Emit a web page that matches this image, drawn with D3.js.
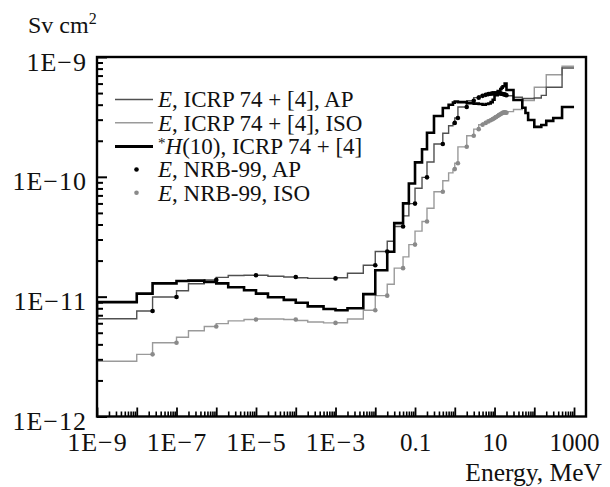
<!DOCTYPE html>
<html><head><meta charset="utf-8">
<script src="https://cdn.jsdelivr.net/npm/d3@7"></script>
<style>body{margin:0;background:#fff} svg text{font-family:"Liberation Serif","DejaVu Serif",serif;fill:#111}</style>
</head><body><svg id="chart" width="610" height="487" font-family="Liberation Serif, DejaVu Serif, serif"></svg>
<script>
// ---------- data (values in pSv cm^2) ----------
const icrpEnergy = [1e-9,1e-8,2.5e-8,1e-7,2e-7,5e-7,1e-6,2e-6,5e-6,1e-5,2e-5,5e-5,1e-4,2e-4,5e-4,1e-3,2e-3,5e-3,1e-2,2e-2,3e-2,5e-2,7e-2,0.1,0.15,0.2,0.3,0.5,0.7,0.9,1,1.2,2,3,4,5,6,7,8,9,10,12,14,15,16,18,20];
const apValues  = [5.24,6.55,7.60,9.95,11.2,12.8,13.8,14.5,15.0,15.1,15.1,14.8,14.6,14.4,14.2,14.2,14.4,15.7,18.3,23.8,29.0,38.5,47.2,59.8,80.2,99.0,133,188,231,267,282,310,383,432,458,474,483,490,494,497,499,499,496,494,491,486,480];
const isoValues = [2.40,2.89,3.30,4.13,4.59,5.20,5.63,5.96,6.28,6.44,6.51,6.51,6.45,6.32,6.14,6.04,6.05,6.52,7.70,10.2,12.7,17.3,21.5,27.2,35.2,42.4,54.7,75.0,92.8,108,116,130,178,220,250,272,282,290,297,303,309,322,333,338,342,345,343];
const h10Values = [6.60,9.00,10.6,12.9,13.5,13.6,13.3,12.9,12.0,11.3,10.6,9.90,9.40,8.90,8.30,7.90,7.70,8.00,10.5,16.6,23.7,41.1,60.0,88.0,132,170,233,322,375,400,416,425,420,412,408,405,400,405,409,420,440,480,520,540,555,570,600];
// extension above 20 MeV ([4])
const apExtEnergy  = [30,50,100,150,200,500,1000];
const apExtValues  = [475,462,450,455,478,559,810];
const isoExtEnergy = [30,50,100,200,500,1000];
const isoExtValues = [350,365,433,559,712,836];
const h10ExtEnergy = [30,50,60,70,100,150,200,300,500,1000];
const h10ExtValues = [530,438,377,341,298,261,271,293,310,383];
// NRB-99 points
const nrbEnergy = [2.5e-8,1e-7,1e-6,1e-5,1e-4,1e-3,1e-2,2e-2,5e-2,0.1,0.2,0.5,1,1.2,2,3,4,5,6,7,8,9,10,11,12,13,14,15,16,17,18,19,20];
const nrbAP  = [7.60,9.95,13.8,15.1,14.6,14.2,18.3,23.8,38.5,59.8,99.0,188,282,310,383,432,458,474,483,490,494,497,499,499,499,498,496,494,491,489,486,483,480];
const nrbISO = [3.30,4.13,5.63,6.44,6.45,6.04,7.70,10.2,17.3,27.2,42.4,75.0,116,130,178,220,250,272,282,290,297,303,309,316,322,328,333,338,342,344,345,344,343];
// ticks
const xTickValues = [1e-9,1e-7,1e-5,1e-3,0.1,10,1000];
const xTickLabels = ["1E\u22129","1E\u22127","1E\u22125","1E\u22123","0.1","10","1000"];
const yTickValues = [1e-12,1e-11,1e-10,1e-9];
const yTickLabels = ["1E\u221212","1E\u221211","1E\u221210","1E\u22129"];
const legendLabels = ["E, ICRP 74 + [4], AP","E, ICRP 74 + [4], ISO","*H(10), ICRP 74 + [4]","E, NRB-99, AP","E, NRB-99, ISO"];

// ---------- layout ----------
const FONT = "Liberation Serif, DejaVu Serif, serif";
const L=97, R=586, T=57, B=416.5;
const svg = d3.select("#chart");
const x = d3.scaleLog().domain([1e-9, 2e3]).range([L, R]);
const y = d3.scaleLog().domain([1e-12, 1e-9]).range([B, T]);
const pS = 1e-12;

svg.append("clipPath").attr("id","clip").append("rect").attr("x",L).attr("y",T).attr("width",R-L).attr("height",B-T);
const plot = svg.append("g").attr("clip-path","url(#clip)");

function series(E, V, EE, VV){
  const pts = E.map((e,i)=>[e, V[i]]);
  EE.forEach((e,i)=>pts.push([e, VV[i]]));
  return pts;
}
const line = d3.line().x(d=>x(d[0])).y(d=>y(d[1]*pS)).curve(d3.curveStepBefore);
const styles = {
  ap:  {c:"#505050", w:1.4},
  iso: {c:"#9a9a9a", w:1.4},
  h10: {c:"#000",    w:2.6}
};
plot.append("path").datum(series(icrpEnergy, isoValues, isoExtEnergy, isoExtValues))
  .attr("d", line).attr("fill","none").attr("stroke",styles.iso.c).attr("stroke-width",styles.iso.w);
plot.append("path").datum(series(icrpEnergy, apValues, apExtEnergy, apExtValues))
  .attr("d", line).attr("fill","none").attr("stroke",styles.ap.c).attr("stroke-width",styles.ap.w);
plot.append("path").datum(series(icrpEnergy, h10Values, h10ExtEnergy, h10ExtValues))
  .attr("d", line).attr("fill","none").attr("stroke",styles.h10.c).attr("stroke-width",styles.h10.w);

plot.append("g").selectAll("circle").data(nrbEnergy.map((e,i)=>[e,nrbISO[i]])).join("circle")
  .attr("cx",d=>x(d[0])).attr("cy",d=>y(d[1]*pS)).attr("r",2.3).attr("fill","#8a8a8a");
plot.append("g").selectAll("circle").data(nrbEnergy.map((e,i)=>[e,nrbAP[i]])).join("circle")
  .attr("cx",d=>x(d[0])).attr("cy",d=>y(d[1]*pS)).attr("r",2.3).attr("fill","#000");

// ---------- axes ----------
const decadesX = d3.range(-9, 4).map(p => +("1e"+p));
const minorX = [];
decadesX.slice(0,-1).forEach(d => { for (let k=2;k<=9;k++) minorX.push(d*k); });
const decadesY = d3.range(-12, -8).map(p => +("1e"+p));
const minorY = [];
decadesY.slice(0,-1).forEach(d => { for (let k=2;k<=9;k++) minorY.push(d*k); });

const ax = svg.append("g");
function styleAxis(g, w){ g.select(".domain").remove(); g.selectAll("line").attr("stroke","#000").attr("stroke-width",w); }
ax.append("g").attr("transform",`translate(0,${B})`)
  .call(d3.axisBottom(x).tickValues(minorX).tickSize(-5).tickFormat(""))
  .call(g=>styleAxis(g,1.6));
ax.append("g").attr("transform",`translate(0,${B})`)
  .call(d3.axisBottom(x).tickValues(decadesX).tickSize(-9).tickFormat(""))
  .call(g=>styleAxis(g,1.8));
ax.append("g").attr("transform",`translate(${L},0)`)
  .call(d3.axisLeft(y).tickValues(minorY).tickSize(-6).tickFormat(""))
  .call(g=>styleAxis(g,2));
ax.append("g").attr("transform",`translate(${L},0)`)
  .call(d3.axisLeft(y).tickValues(decadesY).tickSize(-10).tickFormat(""))
  .call(g=>styleAxis(g,2));

// labels
const xl = ax.append("g").attr("transform",`translate(0,${B})`)
  .call(d3.axisBottom(x).tickValues(xTickValues).tickSize(0).tickPadding(16.5).tickFormat((d,i)=>xTickLabels[i]));
xl.attr("font-family",FONT).select(".domain").remove();
xl.selectAll("text").attr("font-family",FONT).attr("fill","#111")
  .attr("font-size",(d,i)=>xTickLabels[i].includes("E") ? 26 : 25)
  .attr("letter-spacing",(d,i)=>xTickLabels[i].includes("E") ? 1 : 0);
const yl = ax.append("g").attr("transform",`translate(${L},0)`)
  .call(d3.axisLeft(y).tickValues(yTickValues).tickSize(0).tickPadding(10).tickFormat((d,i)=>yTickLabels[i]));
yl.attr("font-family",FONT).select(".domain").remove();
yl.selectAll("text").attr("font-size",26).attr("letter-spacing",1).attr("font-family",FONT).attr("fill","#111").attr("dy","0.5em");

// frame
svg.append("rect").attr("x",L).attr("y",T).attr("width",R-L).attr("height",B-T)
  .attr("fill","none").attr("stroke","#000").attr("stroke-width",2.4);

// axis titles
const yt = svg.append("text").attr("x",28).attr("y",33).attr("font-size",24).attr("font-family",FONT);
yt.append("tspan").text("Sv cm");
yt.append("tspan").attr("dy",-9).attr("font-size",16).text("2");
svg.append("text").attr("x",602).attr("y",481).attr("text-anchor","end").attr("font-size",25.5).attr("font-family",FONT).text("Energy, MeV");

// ---------- legend ----------
const legY = [99.5, 122.8, 146.5, 169.5, 192.8];
const lg = svg.append("g").attr("font-family",FONT);
[styles.ap, styles.iso, styles.h10].forEach((s,i)=>{
  lg.append("line").attr("x1",115).attr("x2",153).attr("y1",legY[i]).attr("y2",legY[i])
    .attr("stroke",s.c).attr("stroke-width",s.w+0.2);
});
lg.append("circle").attr("cx",136.5).attr("cy",legY[3]).attr("r",2.3).attr("fill","#000");
lg.append("circle").attr("cx",136.5).attr("cy",legY[4]).attr("r",2.3).attr("fill","#8a8a8a");
legendLabels.forEach((lab,i)=>{
  const t = lg.append("text").attr("x",158).attr("y",legY[i]+7.8).attr("font-size",23).attr("font-family",FONT);
  if (lab.startsWith("*H")) {
    t.append("tspan").attr("font-size",15).attr("dy",-6).text("*");
    t.append("tspan").attr("dy",6).attr("font-style","italic").text("H");
    t.append("tspan").text(lab.slice(2));
  } else {
    t.append("tspan").attr("font-style","italic").text(lab.slice(0,1));
    t.append("tspan").text(lab.slice(1));
  }
});
</script></body></html>
